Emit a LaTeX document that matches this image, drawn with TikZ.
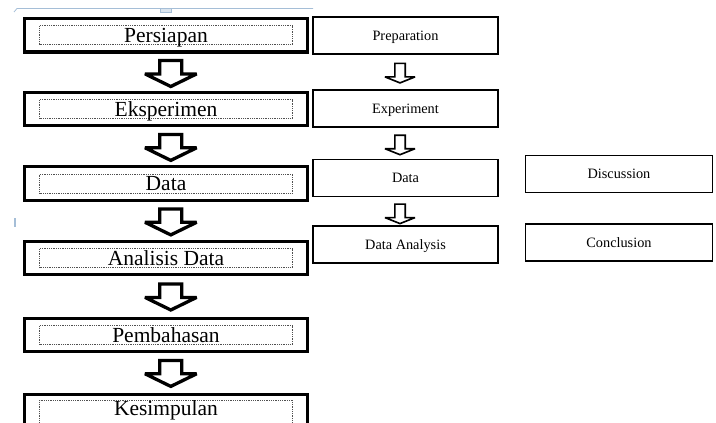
\documentclass[tikz,border=0pt]{standalone}
\usepackage{fontspec}
\setmainfont{Liberation Serif}
\usetikzlibrary{calc,positioning}
\definecolor{ink}{RGB}{0,0,0}
\definecolor{dots}{RGB}{80,80,80}
\definecolor{ruler}{RGB}{165,190,215}
\tikzset{
  every picture/.style={x=1pt, y=1pt, color=ink},
  stage/.style={draw=ink, line width=3.3pt, minimum width=282.7pt, minimum height=33.5pt, inner sep=0pt},
  tag/.style={draw=dots, densely dotted, line width=0.8pt, minimum width=253pt, minimum height=19pt, inner sep=0pt, text depth=0pt, font=\fontsize{21.5}{22}\selectfont},
  engbox/.style={draw=ink, line width=1.8pt, minimum width=185.2pt, minimum height=37pt, inner sep=0pt, text depth=0pt, font=\fontsize{14.3}{15}\selectfont},
  bigdown/.pic={\draw[line width=3.3pt, line join=miter, miter limit=2, fill=white]
    (-11,0) -- (-11,-13.4) -- (-25.8,-13.4) -- (0,-26) -- (25.8,-13.4) -- (11,-13.4) -- (11,0) -- cycle;},
  smalldown/.pic={\draw[line width=1.6pt, line join=miter, miter limit=2, fill=white]
    (-5.2,0) -- (-5.2,-13.5) -- (-15,-13.5) -- (0,-19.5) -- (15,-13.5) -- (5.2,-13.5) -- (5.2,0) -- cycle;},
}

\begin{document}
\begin{tikzpicture}
  \useasboundingbox (0,0) rectangle (716,-423);
  \clip (0,0) rectangle (716,-423);
  % left column: Indonesian stages, thick frame with a dotted label box
  \node[stage] (persiapan) at (166,-35.3) {};
  \node[tag] (persiapanTag) at (persiapan.center) {Persiapan};
  \node[stage] (eksperimen) at (166,-109) {};
  \node[tag] (eksperimenTag) at (eksperimen.center) {Eksperimen};
  \node[stage] (data) at (166,-183.5) {};
  \node[tag] (dataTag) at (data.center) {Data};
  \node[stage] (analisis) at (166,-258) {};
  \node[tag] (analisisTag) at (analisis.center) {Analisis Data};
  \node[stage] (pembahasan) at (166,-335) {};
  \node[tag] (pembahasanTag) at (pembahasan.center) {Pembahasan};
  \node[stage] (kesimpulan) at (166,-411.5) {};
  \node[tag, minimum height=24pt, text height=15pt, text depth=10pt] (kesimpulanTag) at ($(kesimpulan.center)+(0,-1.2)$) {Kesimpulan};
  \pic at ($(persiapan.south)+(4.8,-6.8)$) {bigdown};
  \pic at ($(eksperimen.south)+(4.8,-7)$) {bigdown};
  \pic at ($(data.south)+(4.8,-7)$) {bigdown};
  \pic at ($(analisis.south)+(4.8,-7.6)$) {bigdown};
  \pic at ($(pembahasan.south)+(4.8,-7)$) {bigdown};
  % right column: English stages
  \node[engbox, right=3pt of persiapan, yshift=-0.2pt] (preparation) {Preparation};
  \node[engbox, right=3pt of eksperimen, yshift=0.5pt] (experiment) {Experiment};
  \node[engbox] (dataEn) at (405.5,-178) {Data};
  \node[engbox] (analysis) at (405.5,-244.5) {Data Analysis};
  \node[engbox, minimum width=187pt] (discussion) at (619,-174) {Discussion};
  \node[engbox, minimum width=187pt] (conclusion) at (619,-242.5) {Conclusion};
  \pic at ($(preparation.south)+(-5.5,-8.5)$) {smalldown};
  \pic at ($(experiment.south)+(-5.5,-7.3)$) {smalldown};
  \pic at ($(dataEn.south)+(-5.5,-6.7)$) {smalldown};
  % leftover ruler marks along the top edge
  \draw[ruler, line width=0.8pt] (14,-12) -- (17,-8.5) -- (313,-8.5);
  \draw[ruler, line width=0.8pt, fill=ruler!40] (160,-8.5) rectangle (171,-12);
  \draw[ruler, line width=1.5pt] (15,-218) -- (15,-227);
\end{tikzpicture}
\end{document}
